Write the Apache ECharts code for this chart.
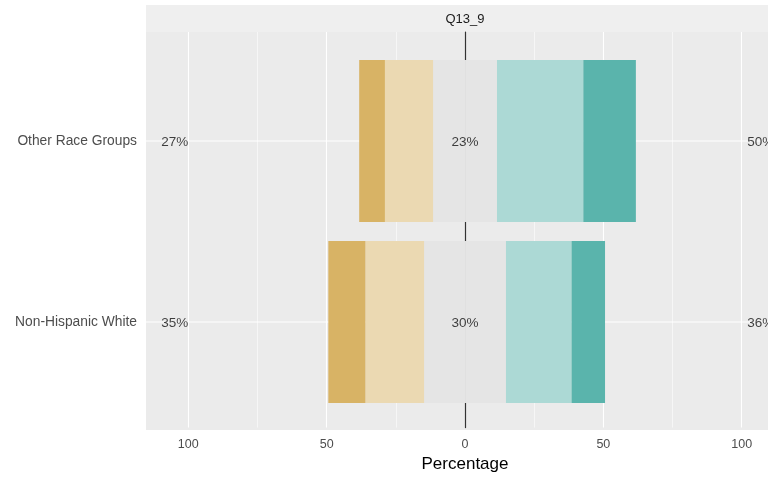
<!DOCTYPE html>
<html>
<head>
<meta charset="utf-8">
<script src="https://cdn.jsdelivr.net/npm/echarts@6/dist/echarts.min.js"></script>
<style>
html,body{margin:0;padding:0;background:#fff;}
#c{width:768px;height:478px;}
</style>
</head>
<body>
<div id="c"></div>
<script>
// ---- data ----
const categories = ['Other Race Groups', 'Non-Hispanic White'];
const stronglyDisagree = [9.3, 13.4];
const disagree = [17.4, 21.2];
const neutral = [23.1, 29.6];
const agree = [31.2, 23.7];
const stronglyAgree = [19.0, 12.1];
const tickValues = [-100, -50, 0, 50, 100];
const facetTitle = 'Q13_9';
const xTitle = 'Percentage';

// ---- style ----
const colSD = '#D8B365', colD = '#EBD9B2', colN = '#E5E5E5', colA = '#ACD9D5', colSA = '#5AB4AC';
const FONT = '"Liberation Sans", Arial, sans-serif';
const XMIN = -115.3, XMAX = 109.5;

const lowTotal = categories.map((c, i) => stronglyDisagree[i] + disagree[i]);
const highTotal = categories.map((c, i) => agree[i] + stronglyAgree[i]);

function barSeries(name, vals, sign, color) {
  return {
    name: name, type: 'bar', stack: 'likert', xAxisIndex: 2, yAxisIndex: 2,
    barWidth: 162, z: 2, silent: true,
    itemStyle: { color: color },
    data: vals.map(v => sign * v)
  };
}
function labelSeries(data, pos) {
  return {
    type: 'scatter', xAxisIndex: 2, yAxisIndex: 2, symbolSize: 0, z: 4, silent: true,
    data: data,
    label: {
      show: true, position: pos, distance: 0, offset: [0, 1],
      fontSize: 13.5, color: '#111111', fontFamily: FONT,
      formatter: p => Math.round(p.value[2]) + '%'
    }
  };
}

const chart = echarts.init(document.getElementById('c'), null, { renderer: 'canvas' });
chart.setOption({
  animation: false,
  textStyle: { fontFamily: FONT },
  graphic: [
    { type: 'rect', shape: { x: 146, y: 5, width: 640, height: 27 }, style: { fill: '#EFEFEF' }, silent: true, z: -10 },
    { type: 'text', x: 465, y: 19, style: { text: facetTitle, fill: '#1A1A1A', fontSize: 13, fontFamily: FONT, textAlign: 'center', textVerticalAlign: 'middle' }, silent: true }
  ],
  grid: [
    { left: 146, right: 0, top: 32, bottom: 48, show: true, backgroundColor: '#EBEBEB', borderWidth: 0, z: -1 },
    { left: 188.3, right: 26.3, top: 32, bottom: 48 },
    { left: 146, right: 0, top: 50.5, bottom: 65.5 }
  ],
  xAxis: [
    { gridIndex: 0, type: 'value', min: -1, max: 1, show: false },
    {
      gridIndex: 1, type: 'value', min: tickValues[0], max: tickValues[tickValues.length - 1], interval: 50,
      axisLine: { show: false, onZero: false }, axisTick: { show: false },
      axisLabel: { formatter: v => String(Math.abs(v)), color: '#4D4D4D', fontSize: 12.5, margin: 10.5 },
      splitLine: { show: true, lineStyle: { color: '#FFFFFF', width: 1.1 } },
      minorTick: { show: false, splitNumber: 2 },
      minorSplitLine: { show: true, lineStyle: { color: '#FFFFFF', width: 0.55 } },
      name: xTitle, nameLocation: 'middle', nameGap: 27,
      nameTextStyle: { fontSize: 17, color: '#000000' }
    },
    { gridIndex: 2, type: 'value', min: XMIN, max: XMAX, show: false }
  ],
  yAxis: [
    { gridIndex: 0, type: 'value', min: 0, max: 1, show: false },
    {
      gridIndex: 1, type: 'value', min: 0, max: 1,
      axisLine: { show: true, onZero: true, lineStyle: { color: '#333333', width: 1.2 } },
      axisTick: { show: false }, axisLabel: { show: false }, splitLine: { show: false }
    },
    {
      gridIndex: 2, type: 'category', data: categories, inverse: true,
      axisLine: { show: false }, axisTick: { show: false }, splitLine: { show: false },
      axisLabel: { color: '#4D4D4D', fontSize: 13.8, margin: 9 }
    }
  ],
  series: [
    ...categories.map(c => ({
      type: 'line', xAxisIndex: 2, yAxisIndex: 2, z: 1, silent: true, symbol: 'none',
      lineStyle: { color: '#FFFFFF', width: 1.1 },
      data: [[XMIN, c], [XMAX, c]]
    })),
    barSeries('Neutral-', neutral.map(v => v / 2), -1, colN),
    barSeries('Neutral+', neutral.map(v => v / 2), 1, colN),
    barSeries('Disagree', disagree, -1, colD),
    barSeries('Agree', agree, 1, colA),
    barSeries('Strongly disagree', stronglyDisagree, -1, colSD),
    barSeries('Strongly agree', stronglyAgree, 1, colSA),
    labelSeries(categories.map((c, i) => [-100, c, lowTotal[i]]), 'left'),
    labelSeries(categories.map((c, i) => [0, c, neutral[i]]), 'inside'),
    labelSeries(categories.map((c, i) => [102, c, highTotal[i]]), 'right')
  ]
});
</script>
</body>
</html>
